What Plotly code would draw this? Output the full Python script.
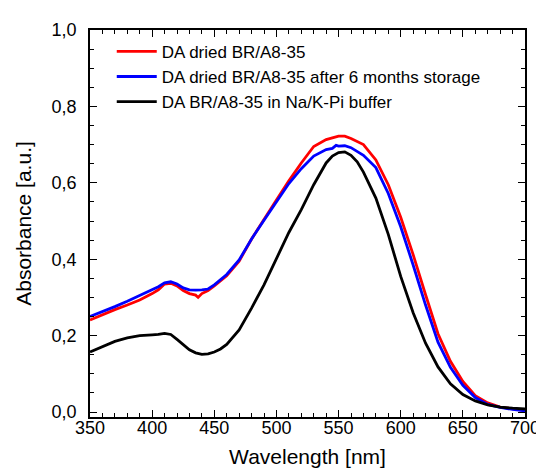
import plotly.graph_objects as go

# Dried BR/A8-35 (red)
wl_red = [350, 360, 370, 380, 390, 400, 405, 410, 415, 420, 425, 430, 435, 437, 440,
          445, 450, 460, 470, 480, 490, 500, 510, 520, 530, 540, 550, 555, 560, 570,
          580, 590, 600, 610, 620, 630, 640, 650, 660, 670, 680, 690, 700]
abs_red = [0.241, 0.255, 0.268, 0.280, 0.293, 0.310, 0.320, 0.335, 0.337, 0.330, 0.318,
           0.310, 0.306, 0.300, 0.310, 0.318, 0.330, 0.357, 0.395, 0.453, 0.505, 0.555,
           0.605, 0.652, 0.695, 0.713, 0.722, 0.722, 0.716, 0.700, 0.660, 0.595, 0.510,
           0.412, 0.307, 0.205, 0.133, 0.080, 0.043, 0.024, 0.013, 0.008, 0.004]

# Dried BR/A8-35 after 6 months storage (blue)
wl_blue = [350, 360, 370, 380, 390, 400, 405, 410, 415, 420, 425, 430, 435, 440, 445,
           450, 460, 470, 480, 490, 500, 510, 520, 530, 540, 545, 548, 550, 555, 560,
           570, 580, 590, 600, 610, 620, 630, 640, 650, 660, 670, 680, 690, 700]
abs_blue = [0.250, 0.262, 0.276, 0.290, 0.305, 0.320, 0.328, 0.338, 0.341, 0.335, 0.325,
            0.320, 0.319, 0.320, 0.322, 0.333, 0.360, 0.398, 0.453, 0.502, 0.550, 0.598,
            0.637, 0.670, 0.687, 0.690, 0.698, 0.696, 0.697, 0.692, 0.672, 0.640, 0.572,
            0.485, 0.385, 0.280, 0.183, 0.117, 0.070, 0.038, 0.020, 0.012, 0.007, 0.003]

# BR/A8-35 in Na/K-Pi buffer (black)
wl_black = [350, 360, 370, 380, 390, 400, 405, 410, 415, 420, 425, 430, 435, 440, 445,
            450, 455, 460, 470, 480, 490, 500, 510, 520, 530, 540, 545, 550, 555, 560,
            565, 570, 580, 590, 600, 610, 620, 630, 640, 650, 660, 670, 680, 690, 700]
abs_black = [0.157, 0.172, 0.185, 0.194, 0.200, 0.202, 0.203, 0.206, 0.203, 0.190, 0.176,
             0.163, 0.155, 0.151, 0.152, 0.157, 0.165, 0.177, 0.215, 0.272, 0.333, 0.403,
             0.470, 0.530, 0.595, 0.652, 0.670, 0.679, 0.681, 0.672, 0.655, 0.628, 0.560,
             0.465, 0.355, 0.260, 0.180, 0.118, 0.074, 0.046, 0.029, 0.019, 0.013, 0.010,
             0.008]

names = ["DA dried BR/A8-35",
         "DA dried BR/A8-35 after 6 months storage",
         "DA BR/A8-35 in Na/K-Pi buffer"]

fig = go.Figure()
fig.add_trace(go.Scatter(x=wl_red, y=abs_red, mode="lines", name=names[0],
                         line=dict(color="#ff0000", width=2.8)))
fig.add_trace(go.Scatter(x=wl_blue, y=abs_blue, mode="lines", name=names[1],
                         line=dict(color="#0000ff", width=2.8)))
fig.add_trace(go.Scatter(x=wl_black, y=abs_black, mode="lines", name=names[2],
                         line=dict(color="#000000", width=2.8)))

axis_style = dict(showline=True, linecolor="black", linewidth=1.5, mirror="ticks",
                  ticks="inside", ticklen=7, tickwidth=1.2, tickcolor="black",
                  showgrid=False, zeroline=False,
                  tickfont=dict(size=18, color="black"))

fig.update_xaxes(range=[350, 700], dtick=50, tick0=350, ticklabelstandoff=-6,
                 title=dict(text="Wavelength [nm]", font=dict(size=21, color="black"), standoff=12),
                 minor=dict(dtick=10, ticks="inside", ticklen=4, tickcolor="black", showgrid=False),
                 **axis_style)
fig.update_yaxes(range=[-0.013, 1.0], dtick=0.2, tick0=0, tickformat=".1f", ticklabelstandoff=8,
                 title=dict(text="Absorbance [a.u.]", font=dict(size=21, color="black"), standoff=14),
                 minor=dict(dtick=0.05, ticks="inside", ticklen=4, tickcolor="black", showgrid=False),
                 **axis_style)

fig.update_layout(
    width=544, height=469,
    margin=dict(l=82, r=18, t=19, b=59),
    separators=",.",
    plot_bgcolor="white", paper_bgcolor="white",
    font=dict(family="Liberation Sans, Arial, sans-serif", color="black"),
    legend=dict(x=0.05, y=0.99, xanchor="left", yanchor="top",
                bgcolor="rgba(0,0,0,0)", font=dict(size=17, color="black"),
                tracegroupgap=0, itemwidth=40),
)

fig.write_html("out.html")
